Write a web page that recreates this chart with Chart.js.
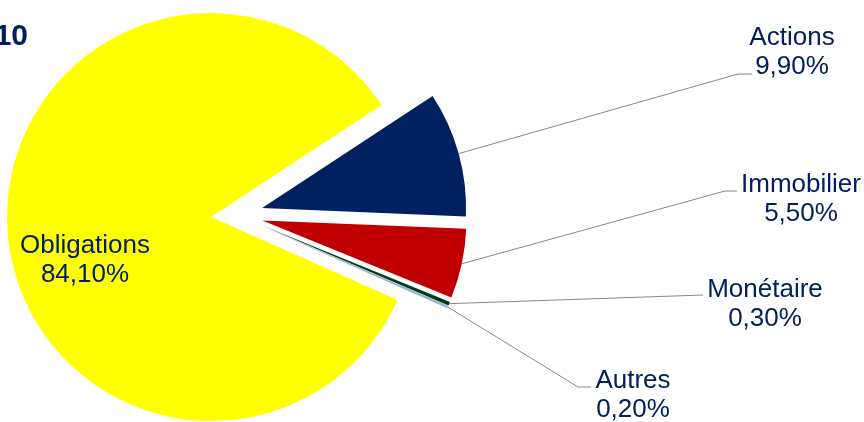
<!DOCTYPE html>
<html><head><meta charset="utf-8">
<script src="https://cdn.jsdelivr.net/npm/chart.js@4.4.0/dist/chart.umd.min.js"></script>
<style>html,body{margin:0;padding:0;background:#fff;overflow:hidden}</style>
</head><body>
<div style="width:864px;height:422px;position:relative">
<canvas id="c" width="864" height="422" style="display:block;width:864px;height:422px"></canvas>
</div>
<script>
const categories = ['Actions', 'Immobilier', 'Monétaire', 'Autres', 'Obligations'];
const shares = [9.9, 5.5, 0.3, 0.2, 84.1];
const sliceColors = ['#002060', '#C00000', '#003A12', '#95B3D7', '#FFFF00'];
const titleText = '10';

const EXPLODE = 26;
const TEXT_COLOR = '#002060';
const LABEL_FONT = '26px "Liberation Sans", Arial, sans-serif';
const LINE_GAP = 29;
// label layout (positions only)
const labelLayout = {
  'Actions':     {x: 792, y: 45,  pts: [[738, 74], [752, 74]]},
  'Immobilier':  {x: 801, y: 192, pts: [[725, 191], [737, 191]]},
  'Monétaire':   {x: 765, y: 297, pts: [[703, 295]]},
  'Autres':      {x: 633, y: 388, pts: [[578, 387], [591, 387]]},
  'Obligations': {x: 85,  y: 253, pts: null}
};

function pctText(v) { return v.toFixed(2).replace('.', ',') + '%'; }

const explodePlugin = {
  id: 'explode',
  beforeDatasetsDraw(chart) {
    const a = chart.chartArea;
    const cx = (a.left + a.right) / 2, cy = (a.top + a.bottom) / 2;
    chart.getDatasetMeta(0).data.forEach(arc => {
      const mid = (arc.startAngle + arc.endAngle) / 2;
      arc.x = cx + EXPLODE * Math.cos(mid);
      arc.y = cy + EXPLODE * Math.sin(mid);
    });
  },
  afterDatasetsDraw(chart) {
    const ctx = chart.ctx;
    const meta = chart.getDatasetMeta(0);
    ctx.save();
    meta.data.forEach((arc, i) => {
      const name = categories[i];
      const lay = labelLayout[name];
      if (lay.pts) {
        const mid = (arc.startAngle + arc.endAngle) / 2;
        const sx = arc.x + arc.outerRadius * Math.cos(mid);
        const sy = arc.y + arc.outerRadius * Math.sin(mid);
        ctx.beginPath();
        ctx.moveTo(sx, sy);
        lay.pts.forEach(p => ctx.lineTo(p[0], p[1]));
        ctx.strokeStyle = '#868686';
        ctx.lineWidth = 1;
        ctx.stroke();
      }
      ctx.fillStyle = TEXT_COLOR;
      ctx.font = LABEL_FONT;
      ctx.textAlign = 'center';
      ctx.textBaseline = 'alphabetic';
      ctx.fillText(name, lay.x, lay.y);
      ctx.fillText(pctText(shares[i]), lay.x, lay.y + LINE_GAP);
    });
    // title fragment
    ctx.font = 'bold 30px "Liberation Sans", Arial, sans-serif';
    ctx.textAlign = 'right';
    ctx.fillStyle = TEXT_COLOR;
    ctx.fillText(titleText, 28, 45);
    ctx.restore();
  }
};

new Chart(document.getElementById('c'), {
  type: 'pie',
  data: {
    labels: categories,
    datasets: [{
      data: shares,
      backgroundColor: sliceColors,
      borderWidth: 0
    }]
  },
  options: {
    responsive: false,
    animation: false,
    devicePixelRatio: 1,
    radius: 204,
    rotation: 56.7,
    clip: false,
    layout: {padding: {left: 0, right: 390, top: 8, bottom: 0}},
    plugins: {legend: {display: false}, tooltip: {enabled: false}, title: {display: false}}
  },
  plugins: [explodePlugin]
});
</script>
</body></html>
